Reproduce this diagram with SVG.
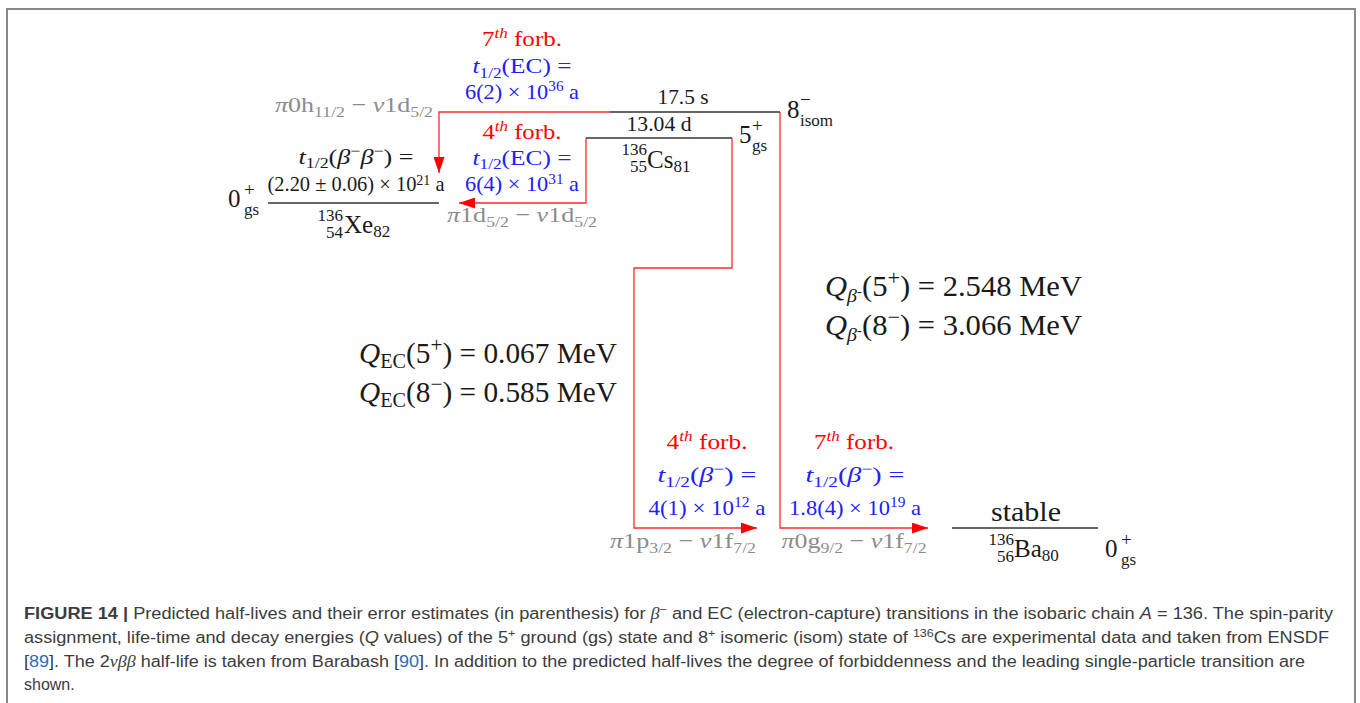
<svg xmlns="http://www.w3.org/2000/svg" width="1360" height="703" viewBox="0 0 1360 703">
<style>
.f{font-family:"Liberation Serif","DejaVu Serif",serif}
.l{font-size:22px}
.q{font-size:29px}
.n{font-size:25px}
.r{fill:#ff0000}
.b{fill:#2020ff}
.g{fill:#8c8c8c}
.k{fill:#1a1a1a}
.i{font-style:italic}
.s{font-size:15px}
.lev{stroke:#333;stroke-width:1.5}
.con{stroke:#ff2a2a;stroke-width:1.3;fill:none}
.cap{font-family:"Liberation Sans",Arial,sans-serif;font-size:16px;fill:#3c3c3c}
.frame{stroke:#888;stroke-width:2;fill:none}
</style>
<defs>
<marker id="ah" markerUnits="userSpaceOnUse" markerWidth="17" markerHeight="11" refX="16" refY="5.5" orient="auto">
<path d="M0,0 L16,5.5 L0,11 Z" fill="#ff0000"/>
</marker>
</defs>
<rect width="1360" height="703" fill="#fff"/>
<path class="frame" d="M7,703 V9 H1355 V703"/>

<g id="connectors">
<path class="con" d="M610,112 H439 V173" marker-end="url(#ah)"/>
<path class="con" d="M586,138 V203 H459" marker-end="url(#ah)"/>
<path class="con" d="M732,138 V268 H634 V528 H757" marker-end="url(#ah)"/>
<path class="con" d="M780,112 V528 H928" marker-end="url(#ah)"/>
</g>

<g id="xe136">
<line class="lev" x1="268" y1="203" x2="439" y2="203"/>
<text class="f l k" x="356" y="164" text-anchor="middle" textLength="115" lengthAdjust="spacingAndGlyphs"><tspan class="i">t</tspan><tspan class="s" dy="4">1/2</tspan><tspan dy="-4">(</tspan><tspan class="i">β</tspan><tspan class="s" dy="-8">−</tspan><tspan class="i" dy="8">β</tspan><tspan class="s" dy="-8">−</tspan><tspan dy="8">) =</tspan></text>
<text class="f l k" x="356" y="191" text-anchor="middle" textLength="177" lengthAdjust="spacingAndGlyphs">(2.20 ± 0.06) × 10<tspan class="s" dy="-6">21</tspan><tspan dy="6"> a</tspan></text>
<text class="f n k" x="228" y="207">0</text>
<text class="f k" x="244" y="196" font-size="19">+</text>
<text class="f k" x="244" y="215" font-size="17">gs</text>
<text class="f k" x="343" y="221" text-anchor="end" font-size="17">136</text>
<text class="f k" x="343" y="238" text-anchor="end" font-size="17">54</text>
<text class="f n k" x="344" y="233">Xe<tspan font-size="17" dy="4">82</tspan></text>
</g>

<g id="cs136-isom">
<line class="lev" x1="610" y1="112" x2="780" y2="112"/>
<text class="f l k" x="683" y="104" text-anchor="middle" textLength="51" lengthAdjust="spacingAndGlyphs">17.5 s</text>
<text class="f n k" x="787" y="118">8</text>
<text class="f k" x="800" y="106" font-size="19">−</text>
<text class="f k" x="800" y="126" font-size="17">isom</text>
</g>

<g id="cs136-gs">
<line class="lev" x1="586" y1="138" x2="732" y2="138"/>
<text class="f l k" x="659" y="131" text-anchor="middle" textLength="65" lengthAdjust="spacingAndGlyphs">13.04 d</text>
<text class="f n k" x="739" y="143">5</text>
<text class="f k" x="752" y="132" font-size="19">+</text>
<text class="f k" x="752" y="151" font-size="17">gs</text>
<text class="f k" x="647" y="155" text-anchor="end" font-size="17">136</text>
<text class="f k" x="647" y="172" text-anchor="end" font-size="17">55</text>
<text class="f n k" x="647" y="168">Cs<tspan font-size="17" dy="4">81</tspan></text>
</g>

<g id="ba136">
<line class="lev" x1="952" y1="528" x2="1098" y2="528"/>
<text class="f k" x="1026" y="521" text-anchor="middle" font-size="27" textLength="70" lengthAdjust="spacingAndGlyphs">stable</text>
<text class="f k" x="1014" y="545" text-anchor="end" font-size="17">136</text>
<text class="f k" x="1014" y="562" text-anchor="end" font-size="17">56</text>
<text class="f n k" x="1014" y="557">Ba<tspan font-size="17" dy="4">80</tspan></text>
<text class="f n k" x="1105" y="557">0</text>
<text class="f k" x="1121" y="546" font-size="19">+</text>
<text class="f k" x="1121" y="565" font-size="17">gs</text>
</g>

<g id="lbl-ec-isom">
<text class="f l r" x="522" y="46" text-anchor="middle" textLength="80" lengthAdjust="spacingAndGlyphs">7<tspan class="s i" dy="-8">th</tspan><tspan dy="8"> forb.</tspan></text>
<text class="f l b" x="522" y="73" text-anchor="middle" textLength="99" lengthAdjust="spacingAndGlyphs"><tspan class="i">t</tspan><tspan class="s" dy="5">1/2</tspan><tspan dy="-5">(EC) =</tspan></text>
<text class="f l b" x="522" y="99" text-anchor="middle" textLength="114" lengthAdjust="spacingAndGlyphs">6(2) × 10<tspan class="s" dy="-8">36</tspan><tspan dy="8"> a</tspan></text>
<text class="f l g" x="433" y="112" text-anchor="end" textLength="158" lengthAdjust="spacingAndGlyphs"><tspan class="i">π</tspan>0h<tspan class="s" dy="5">11/2</tspan><tspan dy="-5"> − </tspan><tspan class="i">ν</tspan>1d<tspan class="s" dy="5">5/2</tspan></text>
</g>

<g id="lbl-ec-gs">
<text class="f l r" x="522" y="139" text-anchor="middle" textLength="79" lengthAdjust="spacingAndGlyphs">4<tspan class="s i" dy="-8">th</tspan><tspan dy="8"> forb.</tspan></text>
<text class="f l b" x="522" y="165" text-anchor="middle" textLength="99" lengthAdjust="spacingAndGlyphs"><tspan class="i">t</tspan><tspan class="s" dy="4">1/2</tspan><tspan dy="-4">(EC) =</tspan></text>
<text class="f l b" x="522" y="191" text-anchor="middle" textLength="114" lengthAdjust="spacingAndGlyphs">6(4) × 10<tspan class="s" dy="-7">31</tspan><tspan dy="7"> a</tspan></text>
<text class="f l g" x="447" y="222" textLength="150" lengthAdjust="spacingAndGlyphs"><tspan class="i">π</tspan>1d<tspan class="s" dy="5">5/2</tspan><tspan dy="-5"> − </tspan><tspan class="i">ν</tspan>1d<tspan class="s" dy="5">5/2</tspan></text>
</g>

<g id="lbl-beta-gs">
<text class="f l r" x="707" y="449" text-anchor="middle" textLength="81" lengthAdjust="spacingAndGlyphs">4<tspan class="s i" dy="-8">th</tspan><tspan dy="8"> forb.</tspan></text>
<text class="f l b" x="707" y="482" text-anchor="middle" textLength="99" lengthAdjust="spacingAndGlyphs"><tspan class="i">t</tspan><tspan class="s" dy="5">1/2</tspan><tspan dy="-5">(</tspan><tspan class="i">β</tspan><tspan class="s" dy="-8">−</tspan><tspan dy="8">) =</tspan></text>
<text class="f l b" x="707" y="515" text-anchor="middle" textLength="117" lengthAdjust="spacingAndGlyphs">4(1) × 10<tspan class="s" dy="-8">12</tspan><tspan dy="8"> a</tspan></text>
<text class="f l g" x="683" y="548" text-anchor="middle" textLength="146" lengthAdjust="spacingAndGlyphs"><tspan class="i">π</tspan>1p<tspan class="s" dy="5">3/2</tspan><tspan dy="-5"> − </tspan><tspan class="i">ν</tspan>1f<tspan class="s" dy="5">7/2</tspan></text>
</g>

<g id="lbl-beta-isom">
<text class="f l r" x="854" y="449" text-anchor="middle" textLength="80" lengthAdjust="spacingAndGlyphs">7<tspan class="s i" dy="-8">th</tspan><tspan dy="8"> forb.</tspan></text>
<text class="f l b" x="855" y="482" text-anchor="middle" textLength="99" lengthAdjust="spacingAndGlyphs"><tspan class="i">t</tspan><tspan class="s" dy="5">1/2</tspan><tspan dy="-5">(</tspan><tspan class="i">β</tspan><tspan class="s" dy="-8">−</tspan><tspan dy="8">) =</tspan></text>
<text class="f l b" x="855" y="515" text-anchor="middle" textLength="132" lengthAdjust="spacingAndGlyphs">1.8(4) × 10<tspan class="s" dy="-8">19</tspan><tspan dy="8"> a</tspan></text>
<text class="f l g" x="854" y="548" text-anchor="middle" textLength="145" lengthAdjust="spacingAndGlyphs"><tspan class="i">π</tspan>0g<tspan class="s" dy="5">9/2</tspan><tspan dy="-5"> − </tspan><tspan class="i">ν</tspan>1f<tspan class="s" dy="5">7/2</tspan></text>
</g>

<g id="q-values">
<text class="f q k" x="825" y="296" textLength="257" lengthAdjust="spacingAndGlyphs"><tspan class="i">Q</tspan><tspan class="i" font-size="19" dy="6">β</tspan><tspan font-size="14" dy="-6">-</tspan><tspan>(5</tspan><tspan font-size="21" dy="-11">+</tspan><tspan dy="11">) = 2.548 MeV</tspan></text>
<text class="f q k" x="825" y="335" textLength="257" lengthAdjust="spacingAndGlyphs"><tspan class="i">Q</tspan><tspan class="i" font-size="19" dy="6">β</tspan><tspan font-size="14" dy="-6">-</tspan><tspan>(8</tspan><tspan font-size="21" dy="-11">−</tspan><tspan dy="11">) = 3.066 MeV</tspan></text>
<text class="f q k" x="359" y="363" textLength="258" lengthAdjust="spacingAndGlyphs"><tspan class="i">Q</tspan><tspan font-size="20" dy="5">EC</tspan><tspan dy="-5">(5</tspan><tspan font-size="21" dy="-11">+</tspan><tspan dy="11">) = 0.067 MeV</tspan></text>
<text class="f q k" x="359" y="402" textLength="258" lengthAdjust="spacingAndGlyphs"><tspan class="i">Q</tspan><tspan font-size="20" dy="5">EC</tspan><tspan dy="-5">(8</tspan><tspan font-size="21" dy="-11">−</tspan><tspan dy="11">) = 0.585 MeV</tspan></text>
</g>

<g id="caption">
<text class="cap" x="24" y="619" textLength="1309" lengthAdjust="spacingAndGlyphs"><tspan font-weight="bold">FIGURE 14 |</tspan> Predicted half-lives and their error estimates (in parenthesis) for <tspan font-style="italic" font-family="Liberation Serif,serif">β</tspan><tspan font-size="11" dy="-6">−</tspan><tspan dy="6"> and EC (electron-capture) transitions in the isobaric chain </tspan><tspan font-style="italic">A</tspan> = 136. The spin-parity</text>
<text class="cap" x="24" y="643" textLength="1305" lengthAdjust="spacingAndGlyphs">assignment, life-time and decay energies (<tspan font-style="italic">Q</tspan> values) of the 5<tspan font-size="11" dy="-6">+</tspan><tspan dy="6"> ground (gs) state and 8</tspan><tspan font-size="11" dy="-6">+</tspan><tspan dy="6"> isomeric (isom) state of </tspan><tspan font-size="11" dy="-6">136</tspan><tspan dy="6">Cs are experimental data and taken from ENSDF</tspan></text>
<text class="cap" x="24" y="667" textLength="1281" lengthAdjust="spacingAndGlyphs">[<tspan fill="#2a6ebb">89</tspan>]. The 2<tspan font-style="italic" font-family="Liberation Serif,serif">νββ</tspan> half-life is taken from Barabash [<tspan fill="#2a6ebb">90</tspan>]. In addition to the predicted half-lives the degree of forbiddenness and the leading single-particle transition are</text>
<text class="cap" x="24" y="690">shown.</text>
</g>
</svg>
